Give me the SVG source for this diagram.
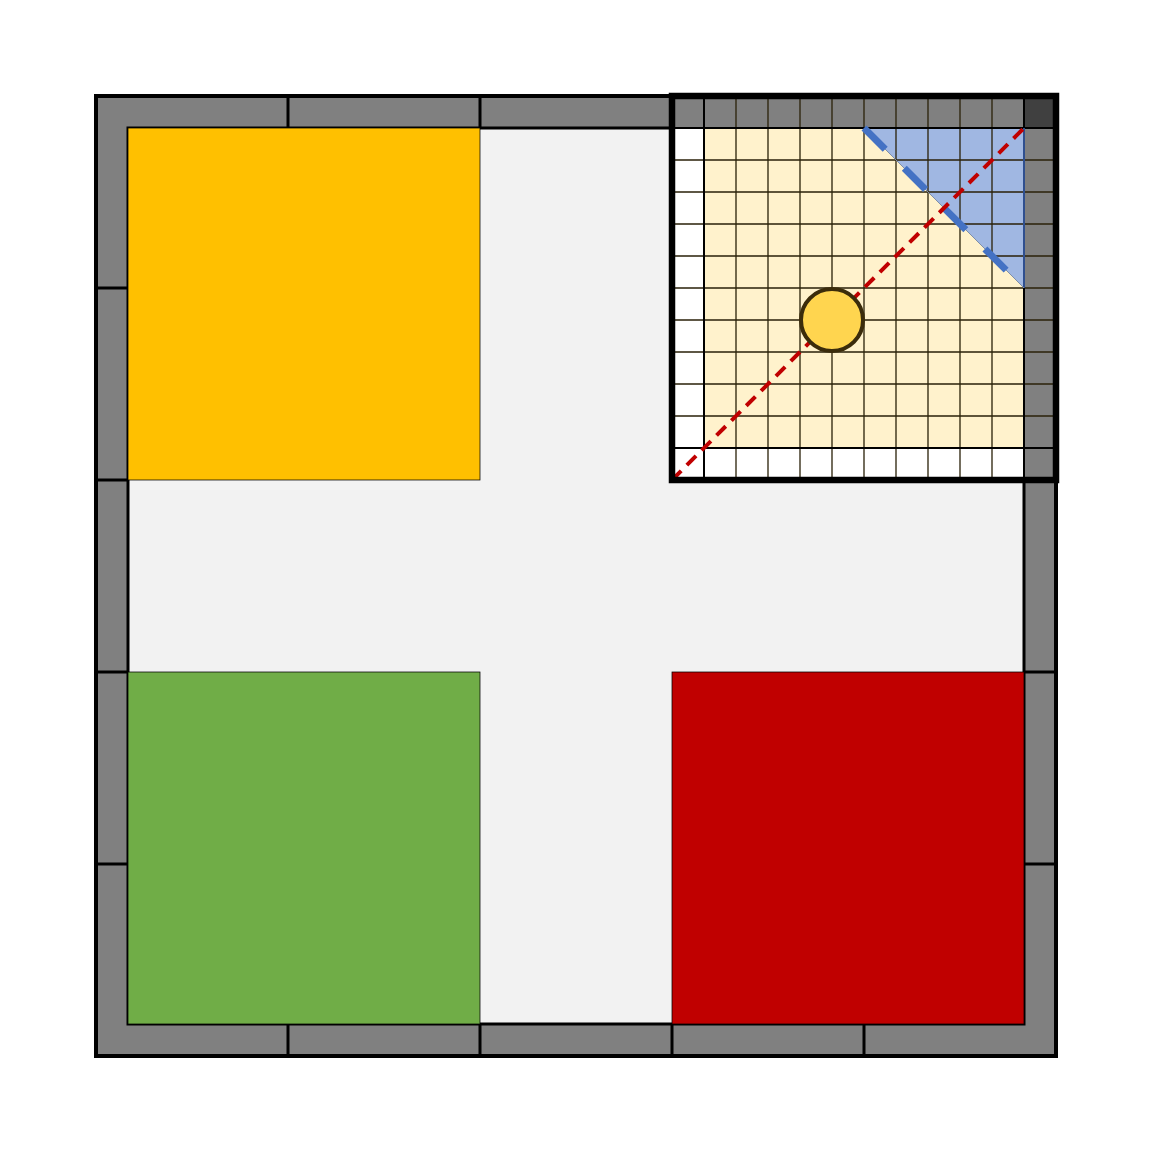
<svg xmlns="http://www.w3.org/2000/svg" width="1152" height="1152" viewBox="0 0 1152 1152">
<style>
.div{stroke:#000;stroke-width:3}
.home{stroke:#000;stroke-width:0.75}
.g{stroke:#2a2108;stroke-width:1.3}
</style>
<rect width="1152" height="1152" fill="#fff"/>
<g id="board">
<rect x="96" y="96" width="960" height="960" fill="#808080" stroke="#000" stroke-width="4"/>
<rect x="128" y="128" width="896" height="896" fill="#f2f2f2" stroke="#000" stroke-width="3"/>
<g id="dividers">
<line class="div" x1="288" y1="96" x2="288" y2="128"/>
<line class="div" x1="480" y1="96" x2="480" y2="128"/>
<line class="div" x1="96" y1="288" x2="128" y2="288"/>
<line class="div" x1="96" y1="480" x2="128" y2="480"/>
<line class="div" x1="96" y1="672" x2="128" y2="672"/>
<line class="div" x1="96" y1="864" x2="128" y2="864"/>
<line class="div" x1="288" y1="1024" x2="288" y2="1056"/>
<line class="div" x1="480" y1="1024" x2="480" y2="1056"/>
<line class="div" x1="672" y1="1024" x2="672" y2="1056"/>
<line class="div" x1="864" y1="1024" x2="864" y2="1056"/>
<line class="div" x1="1024" y1="672" x2="1056" y2="672"/>
<line class="div" x1="1024" y1="864" x2="1056" y2="864"/>
</g>
</g>
<g id="home-yellow"><rect class="home" x="128" y="128" width="352" height="352" fill="#ffc000"/></g>
<g id="home-green"><rect class="home" x="128" y="672" width="352" height="352" fill="#70ad47"/></g>
<g id="home-red"><rect class="home" x="672" y="672" width="352" height="352" fill="#c00000"/></g>
<g id="detail">
<rect x="672" y="96" width="384" height="384" fill="#fff"/>
<rect x="672" y="96" width="384" height="32" fill="#808080"/>
<rect x="1024" y="96" width="32" height="384" fill="#808080"/>
<rect x="1024" y="96" width="32" height="32" fill="#404040"/>
<rect x="704" y="128" width="320" height="320" fill="#fff2cc"/>
<polygon points="864,128 1024,128 1024,288" fill="#a0b7e2"/>
<g id="grid">
<path class="g" d="M736,96V480M768,96V480M800,96V480M832,96V480M864,96V480M896,96V480M928,96V480M960,96V480M992,96V480M672,160H1056M672,192H1056M672,224H1056M672,256H1056M672,288H1056M672,320H1056M672,352H1056M672,384H1056M672,416H1056"/>
<path d="M672,128H1056M704,96V480M672,448H1056M1024,96V480" stroke="#000" stroke-width="2"/>
<path d="M1024,128V288" stroke="#2f4f8f" stroke-width="2"/>
<line x1="864" y1="128" x2="1024" y2="288" stroke="#7f8fa8" stroke-width="1"/>
</g>
<line x1="864" y1="128" x2="1024" y2="288" stroke="#4472c4" stroke-width="7" stroke-dasharray="30 27"/>
<line x1="672" y1="480" x2="1024" y2="128" stroke="#c00000" stroke-width="4" stroke-dasharray="13 8"/>
<circle cx="832" cy="320" r="31" fill="#ffd54f" stroke="#3b2c0b" stroke-width="4"/>
<rect x="672" y="96" width="384" height="384" fill="none" stroke="#000" stroke-width="6.5"/>
</g>
</svg>
